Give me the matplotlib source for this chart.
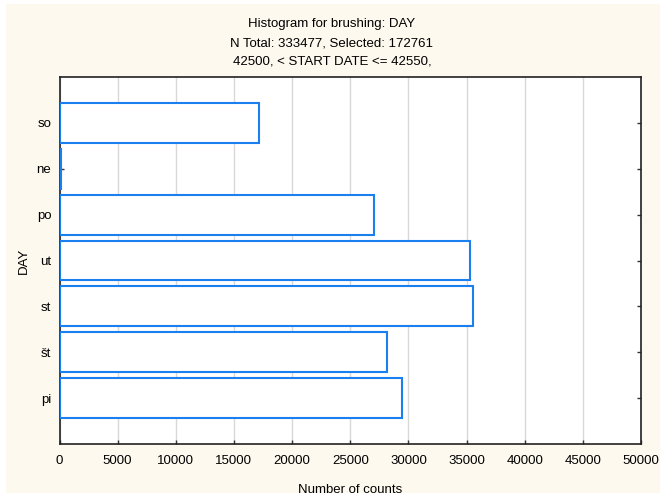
import matplotlib.pyplot as plt
from matplotlib.patches import Rectangle

days = ["so", "ne", "po", "ut", "st", "št", "pi"]
counts = [17180, 110, 27000, 35320, 35550, 28130, 29471]
xticks = [0, 5000, 10000, 15000, 20000, 25000, 30000, 35000, 40000, 45000, 50000]

plt.rcParams['font.family'] = ['Liberation Sans', 'DejaVu Sans']
plt.rcParams['font.size'] = 9.5

W, H = 664, 497
fig = plt.figure(figsize=(W / 100, H / 100), dpi=100, facecolor="white")
# cream panel behind the plot
fig.patches.append(Rectangle((6 / W, 1 - 493 / H), 654 / W, 489 / H,
                             transform=fig.transFigure, facecolor="#fdf9ef",
                             edgecolor="none", zorder=-1))

left, right, top, bottom = 59.5, 641, 77, 444
ax = fig.add_axes([left / W, 1 - bottom / H, (right - left) / W, (bottom - top) / H])
ax.set_facecolor("white")

pos = list(range(len(days), 0, -1))
ax.barh(pos, counts, height=0.87, color="white", edgecolor="#1a80f0",
        linewidth=1.5, zorder=3)

ax.set_xlim(0, 50000)
ax.set_ylim(0, 8)
ax.set_xticks(xticks)
ax.set_xticklabels([str(t) for t in xticks])
ax.set_yticks(pos)
ax.set_yticklabels(days)
ax.xaxis.grid(True, color="#d8d8d8", linewidth=1, zorder=0)
ax.tick_params(axis="both", direction="in", length=3, width=1, color="#333333", labelsize=9.5)
ax.tick_params(axis="x", pad=8)
ax.tick_params(axis="y", right=True, pad=6)
for sp in ax.spines.values():
    sp.set_color("#222222")
    sp.set_linewidth(1.2)

ax.set_xlabel("Number of counts", labelpad=12)
ax.set_ylabel("DAY", labelpad=5)

fig.text(0.5, 1 - 24 / H, "Histogram for brushing: DAY", ha="center", va="center")
fig.text(0.5, 1 - 43.5 / H, "N Total: 333477, Selected: 172761", ha="center", va="center")
fig.text(0.5, 1 - 62 / H, "42500, < START DATE <= 42550,", ha="center", va="center")

fig.savefig("out.png", dpi=100, facecolor=fig.get_facecolor())
